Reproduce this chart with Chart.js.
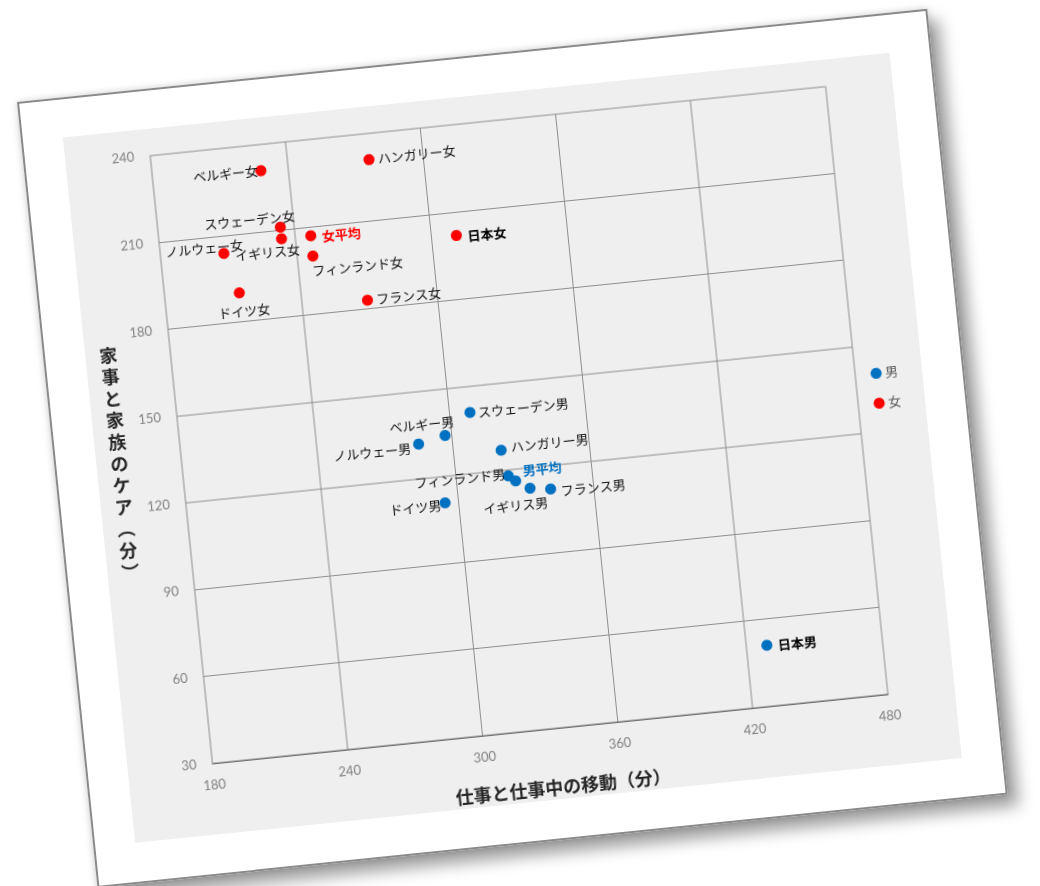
<!DOCTYPE html>
<html lang="ja">
<head>
<meta charset="utf-8">
<title>仕事と家事・家族のケア（分）</title>
<script src="https://cdn.jsdelivr.net/npm/chart.js@4.4.1/dist/chart.umd.min.js"></script>
<style>
  html, body { margin: 0; padding: 0; background: #ffffff; }
  body { width: 1040px; height: 886px; overflow: hidden; position: relative; }
  #sheet {
    position: absolute; left: 17px; top: 102px;
    width: 915px; height: 790px; box-sizing: border-box;
    background: #ffffff; border: 2px solid #8a8a8a;
    transform-origin: 0 0; transform: rotate(-5.85deg);
    box-shadow: 10px 12px 16px rgba(0,0,0,0.38), 0 0 7px rgba(0,0,0,0.16);
  }
  #panel {
    position: absolute; left: 40px; top: 38px;
    width: 831px; height: 709px; background: #efefef;
  }
  #panel canvas { display: block; }
</style>
</head>
<body>
<div id="sheet"><div id="panel"><canvas id="c" width="831" height="709"></canvas></div></div>
<script>
// 男性：仕事と仕事中の移動（分）／家事と家族のケア（分）
const menNames = ['スウェーデン男', 'ベルギー男', 'ノルウェー男', 'ハンガリー男', 'フィンランド男', '男平均', 'イギリス男', 'フランス男', 'ドイツ男', '日本男'];
const menWork  = [309, 297, 285, 321, 323, 326, 332, 341, 294, 429];
const menCare  = [141, 134, 132, 127, 118, 116, 113, 112, 111, 51];

// 女性
const womenNames = ['ベルギー女', 'ハンガリー女', 'スウェーデン女', 'ノルウェー女', '女平均', '日本女', 'イギリス女', 'フィンランド女', 'ドイツ女', 'フランス女'];
const womenWork  = [228, 276, 234, 234, 247, 311, 208, 247, 213, 269];
const womenCare  = [231, 231, 211, 207, 207, 202, 204, 200, 190, 183];

const seriesNames = ['男', '女'];
const xTicks = [180, 240, 300, 360, 420, 480];
const yTicks = [30, 60, 90, 120, 150, 180, 210, 240];
const xTitle = '仕事と仕事中の移動（分）';
const yTitle = '家事と家族のケア（分）';

// label placement next to each point: [textAlign, dx, dy]
const menPlace = [
  ['left', 8, 1], ['center', -22, -13], ['right', -8, 4], ['left', 10, -2], ['right', -3, -2],
  ['left', 8, -9], ['center', -16, 16], ['left', 10, 3], ['right', -4, 2], ['left', 11, 1]
];
const womenPlace = [
  ['right', -3, 0], ['left', 9, 0], ['center', -30, -10], ['right', -39, 2], ['left', 11, 2],
  ['left', 11, 2], ['left', 11, 4], ['left', -2, 15], ['center', 3, 19], ['left', 9, 0]
];

const BLUE = '#0070c0';
const RED = '#ff0000';
const JP = '"Noto Sans CJK JP", "Noto Sans", sans-serif';

function labelStyle(name, seriesColor) {
  if (name.indexOf('平均') >= 0) return { color: seriesColor, weight: 'bold' };
  if (name.indexOf('日本') === 0) return { color: '#000000', weight: 'bold' };
  return { color: '#111111', weight: 'normal' };
}

const pointNames = {
  id: 'pointNames',
  afterDatasetsDraw(chart) {
    const ctx = chart.ctx;
    const sets = [
      { names: menNames, place: menPlace, color: BLUE },
      { names: womenNames, place: womenPlace, color: RED }
    ];
    sets.forEach((s, di) => {
      const meta = chart.getDatasetMeta(di);
      meta.data.forEach((pt, i) => {
        const [align, dx, dy] = s.place[i];
        const st = labelStyle(s.names[i], s.color);
        ctx.save();
        ctx.font = st.weight + ' 13px ' + JP;
        ctx.fillStyle = st.color;
        ctx.textAlign = align;
        ctx.textBaseline = 'middle';
        ctx.fillText(s.names[i], pt.x + dx, pt.y + dy);
        ctx.restore();
      });
    });
  }
};

const sideParts = {
  id: 'sideParts',
  afterDraw(chart) {
    const ctx = chart.ctx;
    const a = chart.chartArea;
    const midY = (a.top + a.bottom) / 2;
    ctx.save();
    // legend
    const colors = [BLUE, RED];
    seriesNames.forEach((n, i) => {
      const y = midY - 15 + i * 30;
      const x = a.right + 21;
      ctx.beginPath();
      ctx.arc(x, y, 5.5, 0, Math.PI * 2);
      ctx.fillStyle = colors[i];
      ctx.fill();
      ctx.font = 'normal 13px ' + JP;
      ctx.fillStyle = '#595959';
      ctx.textAlign = 'left';
      ctx.textBaseline = 'middle';
      ctx.fillText(n, x + 9, y);
    });
    // x axis title
    ctx.font = 'bold 18px ' + JP;
    ctx.fillStyle = '#262626';
    ctx.textAlign = 'center';
    ctx.textBaseline = 'middle';
    ctx.fillText(xTitle, (a.left + a.right) / 2 + 7, a.bottom + 59);
    // y axis title, stacked upright characters
    const chars = Array.from(yTitle).map(c => c === '（' ? '︵' : c === '）' ? '︶' : c);
    const step = 21.8;
    const y0 = midY - 2 - step * (chars.length - 1) / 2;
    chars.forEach((c, i) => {
      ctx.fillText(c, a.left - 62, y0 + i * step);
    });
    ctx.restore();
  }
};

const grid = { color: '#8f8f8f', lineWidth: 1, drawTicks: false };
const tickFont = { family: 'Lato, "Open Sans", sans-serif', size: 13 };

new Chart(document.getElementById('c'), {
  type: 'scatter',
  data: {
    datasets: [
      {
        label: seriesNames[0],
        data: menWork.map((v, i) => ({ x: v, y: menCare[i] })),
        backgroundColor: BLUE, borderColor: BLUE, borderWidth: 0,
        pointRadius: 5.5, pointHoverRadius: 5.5
      },
      {
        label: seriesNames[1],
        data: womenWork.map((v, i) => ({ x: v, y: womenCare[i] })),
        backgroundColor: RED, borderColor: RED, borderWidth: 0,
        pointRadius: 5.5, pointHoverRadius: 5.5
      }
    ]
  },
  options: {
    responsive: false,
    animation: false,
    devicePixelRatio: 2,
    layout: { padding: { top: 27, right: 67, left: 0, bottom: 0 } },
    plugins: { legend: { display: false }, tooltip: { enabled: false } },
    scales: {
      x: {
        type: 'linear', min: xTicks[0], max: xTicks[xTicks.length - 1],
        afterBuildTicks: s => { s.ticks = xTicks.map(v => ({ value: v })); },
        afterFit: s => { s.height = 71; },
        grid: grid,
        border: { color: '#6f6f6f', width: 1.5 },
        ticks: { font: tickFont, color: '#7f7f7f', padding: 14, maxRotation: 0 }
      },
      y: {
        type: 'linear', min: yTicks[0], max: yTicks[yTicks.length - 1],
        afterBuildTicks: s => { s.ticks = yTicks.map(v => ({ value: v })); },
        afterFit: s => { s.width = 85; },
        grid: grid,
        border: { color: '#8a8a8a', width: 1 },
        ticks: { font: tickFont, color: '#7f7f7f', padding: 16 }
      }
    }
  },
  plugins: [pointNames, sideParts]
});
</script>
</body>
</html>
